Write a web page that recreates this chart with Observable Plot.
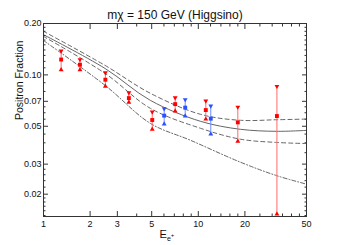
<!DOCTYPE html>
<html><head><meta charset="utf-8">
<script src="https://cdn.jsdelivr.net/npm/d3@7"></script>
<script src="https://cdn.jsdelivr.net/npm/@observablehq/plot@0.6"></script>
<style>body{margin:0;background:#fff;} svg{display:block;}</style>
</head><body><div id="chart"></div>
<script>
const titleText = "mχ = 150 GeV (Higgsino)";
const yLabel = "Positron Fraction";
const xLabelMain = "E";
const xLabelSub = "e";
const xLabelSup = "+";

// red measurements
const redE   = [1.30, 1.72, 2.51, 3.56, 5.04, 7.09, 11.18, 18.0, 32.2];
const redVal = [0.123, 0.1147, 0.0937, 0.0731, 0.0544, 0.0674, 0.0622, 0.0527, 0.0574];
const redHi  = [0.138, 0.123, 0.103, 0.0786, 0.0606, 0.0735, 0.0703, 0.0648, 0.0857];
const redLo  = [0.107, 0.107, 0.0857, 0.069, 0.048, 0.0614, 0.055, 0.0408, 0.0153];

// blue measurements
const blueE   = [6.02, 8.23, 12.04];
const blueVal = [0.0577, 0.0643, 0.0554];
const blueHi  = [0.0634, 0.0717, 0.0657];
const blueLo  = [0.0515, 0.0574, 0.045];

// model curves
const curveE  = [1, 2.5, 4.9, 10.3, 18.7, 32, 50];
const solid   = [0.172, 0.109, 0.0709, 0.0535, 0.048, 0.0467, 0.0473];
const dashHi  = [0.180, 0.1136, 0.078, 0.0588, 0.0542, 0.0546, 0.0551];
const dashLo  = [0.168, 0.102, 0.0637, 0.0487, 0.042, 0.0402, 0.0396];
const bgE     = [1, 2.5, 4.9, 8.9, 18.7, 32, 50];
const bgVal   = [0.159, 0.0868, 0.052, 0.0414, 0.0308, 0.0257, 0.0229];

// axis ticks
const xMajor = [1, 2, 3, 5, 10, 20, 50];
const xMinor = [4, 6, 7, 8, 9, 12, 14, 16, 18, 25, 30, 35, 40, 45];
const yMajor = [0.02, 0.03, 0.05, 0.07, 0.10, 0.20];
const yMinor = [0.015, 0.016, 0.017, 0.018, 0.019, 0.022, 0.024, 0.026, 0.028,
                0.035, 0.04, 0.045, 0.055, 0.06, 0.065, 0.08, 0.09,
                0.11, 0.12, 0.13, 0.14, 0.15, 0.16, 0.17, 0.18, 0.19];

const red = redE.map((e, i) => ({e, v: redVal[i], hi: redHi[i], lo: redLo[i]}));
const blue = blueE.map((e, i) => ({e, v: blueVal[i], hi: blueHi[i], lo: blueLo[i]}));
const mk = (E, V) => E.map((e, i) => ({e, v: V[i]}));

const lineColor = "#666";
const axisColor = "#333";
const blank = () => "";
const yFmt = d3.format(".2f");

const chart = Plot.plot({
  width: 338, height: 245,
  marginLeft: 43, marginRight: 32, marginTop: 23, marginBottom: 29,
  style: {fontFamily: "'Liberation Sans', Arial, sans-serif", fontSize: "9px", color: "#222", background: "#fff"},
  x: {type: "log", domain: [1, 50.0001], label: null},
  y: {type: "log", domain: [0.0148, 0.20001], label: null},
  marks: [
    Plot.line(mk(curveE, solid), {x: "e", y: "v", stroke: lineColor, strokeWidth: 1, curve: "catmull-rom"}),
    Plot.line(mk(curveE, dashHi), {x: "e", y: "v", stroke: lineColor, strokeWidth: 1, strokeDasharray: "4,3", curve: "catmull-rom"}),
    Plot.line(mk(curveE, dashLo), {x: "e", y: "v", stroke: lineColor, strokeWidth: 1, strokeDasharray: "4,3", curve: "catmull-rom"}),
    Plot.line(mk(bgE, bgVal), {x: "e", y: "v", stroke: lineColor, strokeWidth: 1, strokeDasharray: "4,2,1,2", curve: "catmull-rom"}),

    Plot.ruleX(red, {x: "e", y1: "lo", y2: "hi", stroke: "#ff6a6a", strokeWidth: 1}),
    Plot.dot(red, {x: "e", y: "v", symbol: "square", r: 2.2, fill: "#f00", stroke: null}),
    Plot.dot(red, {x: "e", y: "hi", symbol: "triangle", rotate: 180, r: 1.8, fill: "#f00", stroke: null}),
    Plot.dot(red, {x: "e", y: "lo", symbol: "triangle", r: 1.8, fill: "#f00", stroke: null}),

    Plot.ruleX(blue, {x: "e", y1: "lo", y2: "hi", stroke: "#6f8cff", strokeWidth: 1}),
    Plot.dot(blue, {x: "e", y: "v", symbol: "square", r: 2.2, fill: "#2a50ff", stroke: null}),
    Plot.dot(blue, {x: "e", y: "hi", symbol: "triangle", rotate: 180, r: 1.8, fill: "#2a50ff", stroke: null}),
    Plot.dot(blue, {x: "e", y: "lo", symbol: "triangle", r: 1.8, fill: "#2a50ff", stroke: null}),

    Plot.frame({stroke: axisColor, strokeWidth: 1}),
    Plot.axisX(xMajor, {anchor: "bottom", tickSize: -5, tickFormat: blank, stroke: axisColor, label: null}),
    Plot.axisX(xMajor, {anchor: "top", tickSize: -5, tickFormat: blank, stroke: axisColor, label: null}),
    Plot.axisX(xMinor, {anchor: "bottom", tickSize: -2.5, tickFormat: blank, stroke: axisColor, label: null}),
    Plot.axisX(xMinor, {anchor: "top", tickSize: -2.5, tickFormat: blank, stroke: axisColor, label: null}),
    Plot.axisY(yMajor, {anchor: "left", tickSize: -5, tickFormat: blank, stroke: axisColor, label: null}),
    Plot.axisY(yMajor, {anchor: "right", tickSize: -5, tickFormat: blank, stroke: axisColor, label: null}),
    Plot.axisY(yMinor, {anchor: "left", tickSize: -2.5, tickFormat: blank, stroke: axisColor, label: null}),
    Plot.axisY(yMinor, {anchor: "right", tickSize: -2.5, tickFormat: blank, stroke: axisColor, label: null}),

    // tick labels
    Plot.text(xMajor, {x: d => d, frameAnchor: "bottom", dy: 10, text: d => String(d), fontSize: 9, fill: "#111"}),
    Plot.text(yMajor, {y: d => d, frameAnchor: "left", dx: -2, textAnchor: "end", text: d => yFmt(d), fontSize: 9, fill: "#111"}),

    Plot.text([titleText], {frameAnchor: "top", dy: -13, text: d => d, fontSize: 12, fill: "#111"}),
    Plot.text([yLabel], {frameAnchor: "left", dx: -24, rotate: -90, text: d => d, fontSize: 10.5, fill: "#111"})
  ]
});
document.getElementById("chart").appendChild(chart);

// x-axis label with subscript/superscript as real text
const svg = d3.select(chart);
const xl = svg.append("text")
  .attr("x", 167).attr("y", 238)
  .attr("font-size", 11).attr("fill", "#111")
  .attr("font-family", "'Liberation Sans', Arial, sans-serif");
xl.append("tspan").text(xLabelMain);
xl.append("tspan").attr("font-size", 7).attr("dy", 3).text(xLabelSub);
xl.append("tspan").attr("font-size", 6).attr("dy", -4).text(xLabelSup);
</script>
</body></html>
